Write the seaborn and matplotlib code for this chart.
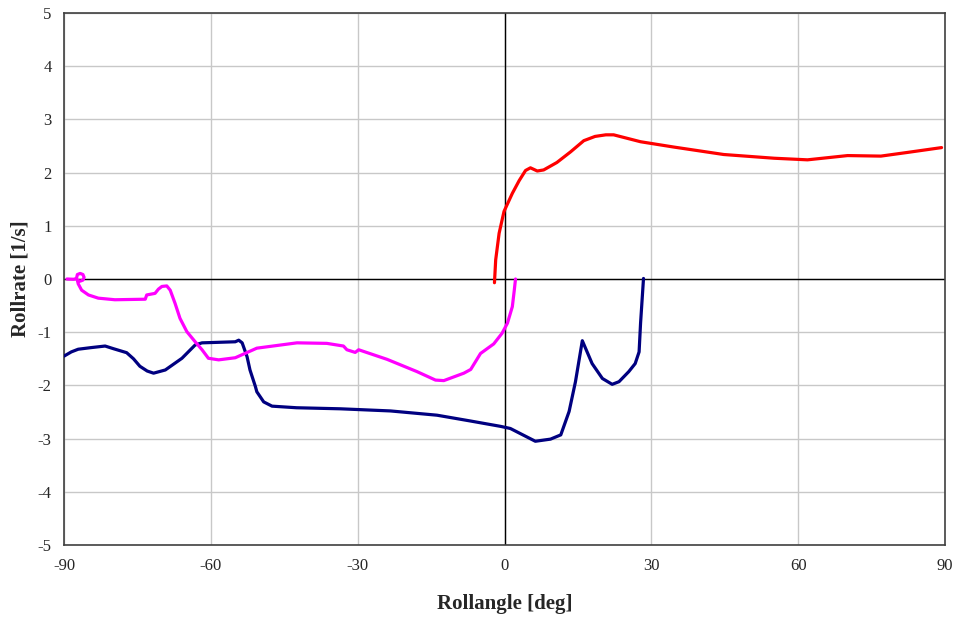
import matplotlib
matplotlib.use("Agg")
import matplotlib.pyplot as plt
import seaborn as sns
import pandas as pd

# ---- data ----
navy_x = [-90.0, -88.5, -87.1, -84.5, -81.6, -79.9, -77.2, -75.8, -74.5, -73.0, -71.7,
          -69.3, -65.9, -63.2, -61.8, -55.0, -54.3, -53.6, -52.6, -52.0, -50.9, -50.6,
          -49.2, -47.5, -42.5, -33.5, -23.3, -13.8, -6.9, -0.8, 1.2, 6.3, 9.4, 11.5, 13.2,
          14.5, 15.9, 17.9, 20.0, 22.0, 23.4, 25.4, 26.7, 27.5, 27.8, 28.4]
navy_y = [-1.45, -1.37, -1.32, -1.29, -1.26, -1.31, -1.385, -1.50, -1.64, -1.73, -1.77,
          -1.71, -1.49, -1.24, -1.20, -1.18, -1.15, -1.20, -1.46, -1.71, -2.02, -2.12,
          -2.31, -2.39, -2.42, -2.44, -2.48, -2.56, -2.67, -2.77, -2.81, -3.05, -3.01,
          -2.93, -2.49, -1.93, -1.16, -1.59, -1.87, -1.98, -1.93, -1.74, -1.59, -1.37,
          -0.83, 0.01]

magenta_x = [-89.4, -88.0, -87.45, -87.27, -86.7, -86.13, -85.9, -86.13, -86.7, -87.27,
             -87.1, -86.4, -85.0, -83.0, -79.6, -73.4, -73.1, -71.4, -70.7, -70.0, -69.0,
             -68.3, -67.3, -66.3, -64.9, -63.2, -61.8, -60.5, -58.4, -55.0, -50.6, -42.4,
             -36.3, -32.9, -32.2, -30.5, -29.8, -24.0, -17.9, -14.1, -12.4, -8.3, -6.9,
             -4.9, -2.2, -0.5, 0.6, 1.6, 2.0, 2.25]
magenta_y = [0.0, -0.005, 0.01, 0.084, 0.105, 0.084, 0.032, -0.02, -0.041, -0.02,
             -0.09, -0.21, -0.30, -0.36, -0.39, -0.38, -0.30, -0.27, -0.19, -0.14, -0.13,
             -0.21, -0.46, -0.74, -0.99, -1.18, -1.33, -1.49, -1.52, -1.48, -1.30, -1.20,
             -1.21, -1.26, -1.33, -1.38, -1.33, -1.51, -1.74, -1.90, -1.91, -1.77, -1.70,
             -1.40, -1.22, -1.02, -0.83, -0.52, -0.21, 0.0]

red_x = [-2.05, -1.8, -1.1, -0.1, 1.6, 3.0, 4.3, 5.3, 6.7, 8.0, 10.7, 13.5, 16.2, 18.5,
         20.7, 22.3, 27.8, 34.6, 44.8, 55.1, 61.9, 70.1, 76.9, 82.4, 89.3]
red_y = [-0.07, 0.36, 0.86, 1.27, 1.61, 1.85, 2.04, 2.09, 2.03, 2.05, 2.19, 2.39, 2.60, 2.68,
         2.71, 2.71, 2.58, 2.48, 2.34, 2.27, 2.24, 2.32, 2.31, 2.38, 2.47]

x_ticks = [-90, -60, -30, 0, 30, 60, 90]
y_ticks = [-5, -4, -3, -2, -1, 0, 1, 2, 3, 4, 5]

sns.set_style("white")
plt.rcParams['font.family'] = ['Liberation Serif', 'DejaVu Serif']

fig = plt.figure(figsize=(9.55, 6.19), dpi=100)
ax = fig.add_axes([64/955, 1 - 545/619, (945 - 64)/955, (545 - 13)/619])

series = [(navy_x, navy_y, '#000080'),
          (magenta_x, magenta_y, '#FF00FF'),
          (red_x, red_y, '#FF0000')]
for xs, ys, col in series:
    df = pd.DataFrame({'x': xs, 'y': ys})
    sns.lineplot(data=df, x='x', y='y', sort=False, estimator=None, color=col,
                 linewidth=2.3, ax=ax, zorder=3)

ax.set_xlim(-90, 90)
ax.set_ylim(-5, 5)
ax.set_xticks(x_ticks)
ax.set_yticks(y_ticks)
ax.set_xticklabels([str(t) for t in x_ticks])
ax.set_yticklabels([str(t) for t in y_ticks])
ax.grid(True, color='#c8c8c8', linewidth=1.0, zorder=0)
ax.set_axisbelow(True)
ax.axhline(0, color='black', linewidth=1.0, zorder=2)
ax.axvline(0, color='black', linewidth=1.0, zorder=2)
for s in ax.spines.values():
    s.set_color('#404040')
    s.set_linewidth(1.2)
ax.tick_params(axis='both', length=0, labelsize=12)
ax.tick_params(axis='x', pad=9)
ax.tick_params(axis='y', pad=9)
ax.set_xlabel('Rollangle [deg]', fontsize=15, fontweight='bold', labelpad=15)
ax.set_ylabel('Rollrate [1/s]', fontsize=15, fontweight='bold', labelpad=5)

fig.savefig('out.png', dpi=100, facecolor='white')
